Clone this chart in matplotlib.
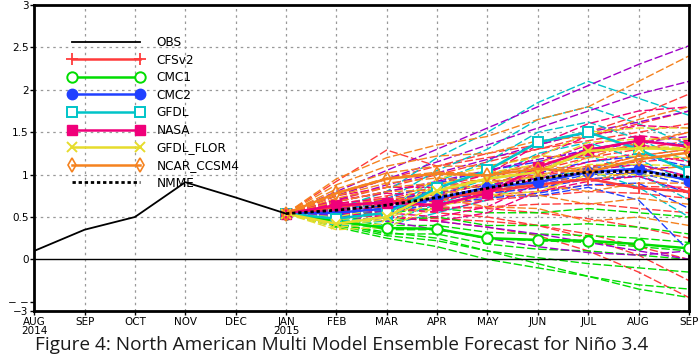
import matplotlib
matplotlib.use("Agg")
import matplotlib.pyplot as plt
import numpy as np

# months on the x axis (Aug 2014 .. Sep 2015)
months = ["AUG\n2014", "SEP", "OCT", "NOV", "DEC", "JAN\n2015", "FEB", "MAR",
          "APR", "MAY", "JUN", "JUL", "AUG", "SEP"]
obs = [0.10, 0.35, 0.50, 0.91, 0.73, 0.54]
start_val = 0.54  # forecasts start from Jan obs

# ensemble means, Feb..Sep 2015
cfsv2_mean = [0.62, 0.68, 0.72, 0.80, 0.88, 0.95, 0.84, 0.80]
cmc1_mean = [0.45, 0.37, 0.36, 0.25, 0.23, 0.22, 0.18, 0.13]
cmc2_mean = [0.55, 0.60, 0.72, 0.85, 0.91, 1.03, 1.07, 0.93]
gfdl_mean = [0.48, 0.55, 0.84, 1.05, 1.38, 1.50, 1.30, 1.03]
nasa_mean = [0.64, 0.67, 0.64, 0.78, 1.09, 1.29, 1.40, 1.33]
flor_mean = [0.42, 0.50, 0.81, 0.95, 1.03, 1.28, 1.31, 1.30]
ncar_mean = [0.78, 0.95, 1.01, 0.99, 1.07, 1.03, 1.18, 1.26]
nmme_mean = [0.58, 0.64, 0.73, 0.84, 0.95, 1.03, 1.04, 0.97]

# individual members, Feb..Sep 2015
cfsv2_members = [
    [0.92, 1.29, 1.10, 1.20, 1.30, 1.40, 1.50, 1.60],
    [0.75, 0.95, 1.10, 1.25, 1.35, 1.50, 1.70, 1.95],
    [0.70, 0.85, 1.00, 1.15, 1.30, 1.45, 1.60, 1.75],
    [0.68, 0.80, 0.90, 1.00, 1.12, 1.25, 1.35, 1.50],
    [0.65, 0.75, 0.85, 0.95, 1.05, 1.20, 1.30, 1.40],
    [0.66, 0.72, 0.82, 0.88, 0.98, 1.08, 1.22, 1.30],
    [0.60, 0.70, 0.78, 0.90, 1.00, 1.10, 1.15, 1.20],
    [0.62, 0.66, 0.70, 0.78, 0.85, 0.95, 0.98, 1.00],
    [0.64, 0.70, 0.72, 0.76, 0.80, 0.88, 0.86, 0.85],
    [0.58, 0.62, 0.65, 0.70, 0.75, 0.80, 0.78, 0.72],
    [0.55, 0.58, 0.60, 0.62, 0.65, 0.66, 0.60, 0.55],
    [0.60, 0.65, 0.62, 0.60, 0.55, 0.48, 0.38, 0.25],
    [0.52, 0.50, 0.48, 0.45, 0.40, 0.30, 0.15, 0.00],
    [0.58, 0.60, 0.55, 0.50, 0.40, 0.25, 0.05, -0.25],
    [0.56, 0.52, 0.45, 0.38, 0.28, 0.10, -0.15, -0.45],
]
cmc1_members = [
    [0.55, 0.55, 0.60, 0.55, 0.55, 0.60, 0.55, 0.50],
    [0.50, 0.45, 0.50, 0.40, 0.40, 0.42, 0.38, 0.30],
    [0.48, 0.40, 0.40, 0.32, 0.30, 0.28, 0.25, 0.20],
    [0.45, 0.35, 0.35, 0.25, 0.22, 0.20, 0.15, 0.10],
    [0.42, 0.30, 0.30, 0.18, 0.12, 0.10, 0.05, 0.00],
    [0.40, 0.28, 0.22, 0.10, 0.02, -0.05, -0.10, -0.15],
    [0.38, 0.25, 0.15, 0.00, -0.10, -0.20, -0.30, -0.35],
    [0.42, 0.32, 0.25, 0.10, -0.05, -0.20, -0.35, -0.45],
]
cmc2_members = [
    [0.60, 0.72, 0.90, 1.05, 1.15, 1.30, 1.40, 1.35],
    [0.58, 0.68, 0.82, 0.95, 1.02, 1.15, 1.22, 1.10],
    [0.56, 0.64, 0.78, 0.88, 0.95, 1.08, 1.12, 0.98],
    [0.54, 0.60, 0.74, 0.82, 0.88, 1.00, 1.02, 0.88],
    [0.52, 0.58, 0.70, 0.78, 0.84, 0.95, 0.98, 0.78],
    [0.50, 0.55, 0.66, 0.72, 0.78, 0.88, 0.90, 0.60],
    [0.55, 0.57, 0.65, 0.75, 0.75, 0.85, 0.70, 0.10],
]
gfdl_members = [
    [0.60, 0.80, 1.20, 1.50, 1.85, 2.10, 1.90, 1.70],
    [0.55, 0.70, 1.05, 1.30, 1.65, 1.80, 1.60, 1.35],
    [0.50, 0.60, 0.92, 1.15, 1.50, 1.62, 1.42, 1.15],
    [0.48, 0.55, 0.84, 1.05, 1.38, 1.50, 1.30, 1.03],
    [0.45, 0.50, 0.75, 0.95, 1.25, 1.38, 1.18, 0.90],
    [0.42, 0.45, 0.65, 0.85, 1.10, 1.22, 1.02, 0.70],
    [0.40, 0.40, 0.55, 0.70, 0.95, 1.05, 0.85, 0.50],
]
nasa_members = [
    [0.75, 0.85, 0.85, 1.00, 1.35, 1.60, 1.75, 1.80],
    [0.70, 0.78, 0.75, 0.90, 1.22, 1.45, 1.58, 1.55],
    [0.66, 0.72, 0.68, 0.82, 1.14, 1.35, 1.46, 1.40],
    [0.63, 0.66, 0.62, 0.76, 1.06, 1.25, 1.35, 1.28],
    [0.60, 0.60, 0.56, 0.70, 0.98, 1.15, 1.25, 1.15],
    [0.58, 0.55, 0.50, 0.62, 0.90, 1.05, 1.12, 0.98],
    [0.55, 0.50, 0.45, 0.55, 0.80, 0.92, 0.98, 0.80],
]
nasa_extra_members = [
    [0.80, 1.05, 1.30, 1.55, 1.80, 2.05, 2.30, 2.52],
    [0.75, 0.95, 1.15, 1.35, 1.55, 1.75, 1.95, 2.10],
    [0.70, 0.88, 1.02, 1.18, 1.35, 1.50, 1.62, 1.75],
    [0.68, 0.80, 0.92, 1.05, 1.18, 1.28, 1.38, 1.45],
    [0.62, 0.70, 0.78, 0.88, 0.96, 1.02, 1.06, 1.10],
    [0.55, 0.50, 0.45, 0.38, 0.30, 0.20, 0.10, 0.00],
    [0.52, 0.45, 0.35, 0.25, 0.15, 0.08, 0.05, 0.10],
]
flor_members = [
    [0.50, 0.62, 0.95, 1.10, 1.20, 1.50, 1.55, 1.55],
    [0.46, 0.56, 0.88, 1.02, 1.12, 1.38, 1.42, 1.42],
    [0.43, 0.51, 0.82, 0.96, 1.04, 1.30, 1.33, 1.32],
    [0.40, 0.47, 0.76, 0.90, 0.97, 1.20, 1.22, 1.20],
    [0.38, 0.42, 0.70, 0.84, 0.90, 1.12, 1.12, 1.10],
    [0.35, 0.38, 0.62, 0.76, 0.80, 1.00, 1.00, 0.95],
]
ncar_members = [
    [0.95, 1.20, 1.35, 1.45, 1.65, 1.80, 2.10, 2.40],
    [0.88, 1.10, 1.22, 1.25, 1.40, 1.45, 1.65, 1.80],
    [0.83, 1.02, 1.10, 1.10, 1.22, 1.20, 1.38, 1.50],
    [0.79, 0.96, 1.03, 1.01, 1.10, 1.06, 1.22, 1.30],
    [0.75, 0.90, 0.96, 0.92, 0.98, 0.92, 1.05, 1.10],
    [0.72, 0.85, 0.90, 0.84, 0.88, 0.80, 0.90, 0.90],
    [0.68, 0.80, 0.82, 0.75, 0.76, 0.65, 0.72, 0.65],
    [0.62, 0.72, 0.72, 0.62, 0.60, 0.45, 0.50, 0.40],
]

c_cfs, c_cmc1, c_cmc2 = "#ff3b3b", "#00dd00", "#2040ff"
c_gfdl, c_nasa, c_flor = "#00c4c8", "#f0007a", "#e6dc2c"
c_ncar, c_purple = "#f5821f", "#a000c8"

x_obs = np.arange(len(obs))
x_fc = np.arange(5, 14)  # Jan .. Sep 2015

fig = plt.figure(figsize=(6.98, 3.63), dpi=100)
ax = fig.add_axes([0.049, 0.143, 0.938, 0.843])

# plume of members
member_sets = [(cfsv2_members, c_cfs), (cmc1_members, c_cmc1), (cmc2_members, c_cmc2),
               (gfdl_members, c_gfdl), (nasa_extra_members, c_purple),
               (nasa_members, c_nasa), (flor_members, c_flor), (ncar_members, c_ncar)]
for members, col in member_sets:
    for m in members:
        ax.plot(x_fc, [start_val] + m, color=col, lw=1.0, dashes=(6, 2), zorder=2)

# model means
means = [
    ("CFSv2", cfsv2_mean, c_cfs, dict(marker="+", ms=9, mew=1.3, mfc=c_cfs)),
    ("CMC1", cmc1_mean, c_cmc1, dict(marker="o", ms=7.5, mew=1.4, mfc="white")),
    ("CMC2", cmc2_mean, c_cmc2, dict(marker="o", ms=7.5, mew=1.0, mfc=c_cmc2)),
    ("GFDL", gfdl_mean, c_gfdl, dict(marker="s", ms=7.5, mew=1.4, mfc="white")),
    ("NASA", nasa_mean, c_nasa, dict(marker="s", ms=7.5, mew=1.0, mfc=c_nasa)),
    ("GFDL_FLOR", flor_mean, c_flor, dict(marker="x", ms=6.5, mew=1.4, mfc=c_flor)),
    ("NCAR_CCSM4", ncar_mean, c_ncar, dict(marker="d", ms=7, mew=1.2, mfc="none")),
]
handles = []
obs_line, = ax.plot(x_obs, obs, color="black", lw=1.3, zorder=6, label="OBS")
handles.append(obs_line)
for name, vals, col, mk in means:
    ln, = ax.plot(x_fc, [start_val] + vals, color=col, lw=1.8, mec=col,
                  zorder=4, label=name, **mk)
    handles.append(ln)
nmme_line, = ax.plot(x_fc, [start_val] + nmme_mean, color="black", lw=2.0,
                     ls=(0, (1.2, 1.0)), zorder=5, label="NMME")
handles.append(nmme_line)

ax.axhline(0, color="black", lw=1.0, zorder=3)

ax.set_xlim(0, 13)
ax.set_ylim(-0.61, 3)
ax.set_xticks(np.arange(14))
ax.set_xticklabels(months, fontsize=7.5, linespacing=0.95)
yt = [-0.61, -0.5, 0, 0.5, 1, 1.5, 2, 2.5, 3]
ax.set_yticks(yt)
ax.set_yticklabels(["\u22123", "\u2212 \u2212", "0", "0.5", "1", "1.5", "2", "2.5", "3"],
                   fontsize=7.5)
ax.tick_params(length=3, width=1, pad=1)
for xv in range(1, 13):
    ax.axvline(xv, color="#999999", lw=0.9, ls=(0, (2, 3)), zorder=1)
for yv in [0.5, 1, 1.5, 2, 2.5]:
    ax.axhline(yv, color="#999999", lw=0.9, ls=(0, (2, 3)), zorder=1)
for s in ax.spines.values():
    s.set_linewidth(2)

leg = ax.legend(handles=handles, loc="upper left", bbox_to_anchor=(0.045, 0.915),
                frameon=False, fontsize=8.7, handlelength=6.2, numpoints=2,
                labelspacing=0.38, handletextpad=1.1, borderaxespad=0)
leg.set_zorder(10)

fig.text(0.49, 0.025, "Figure 4: North American Multi Model Ensemble Forecast for Niño 3.4",
         ha="center", va="bottom", fontsize=13.7, family="Open Sans", color="#1a1a1a")

fig.savefig("out.png", dpi=100)
